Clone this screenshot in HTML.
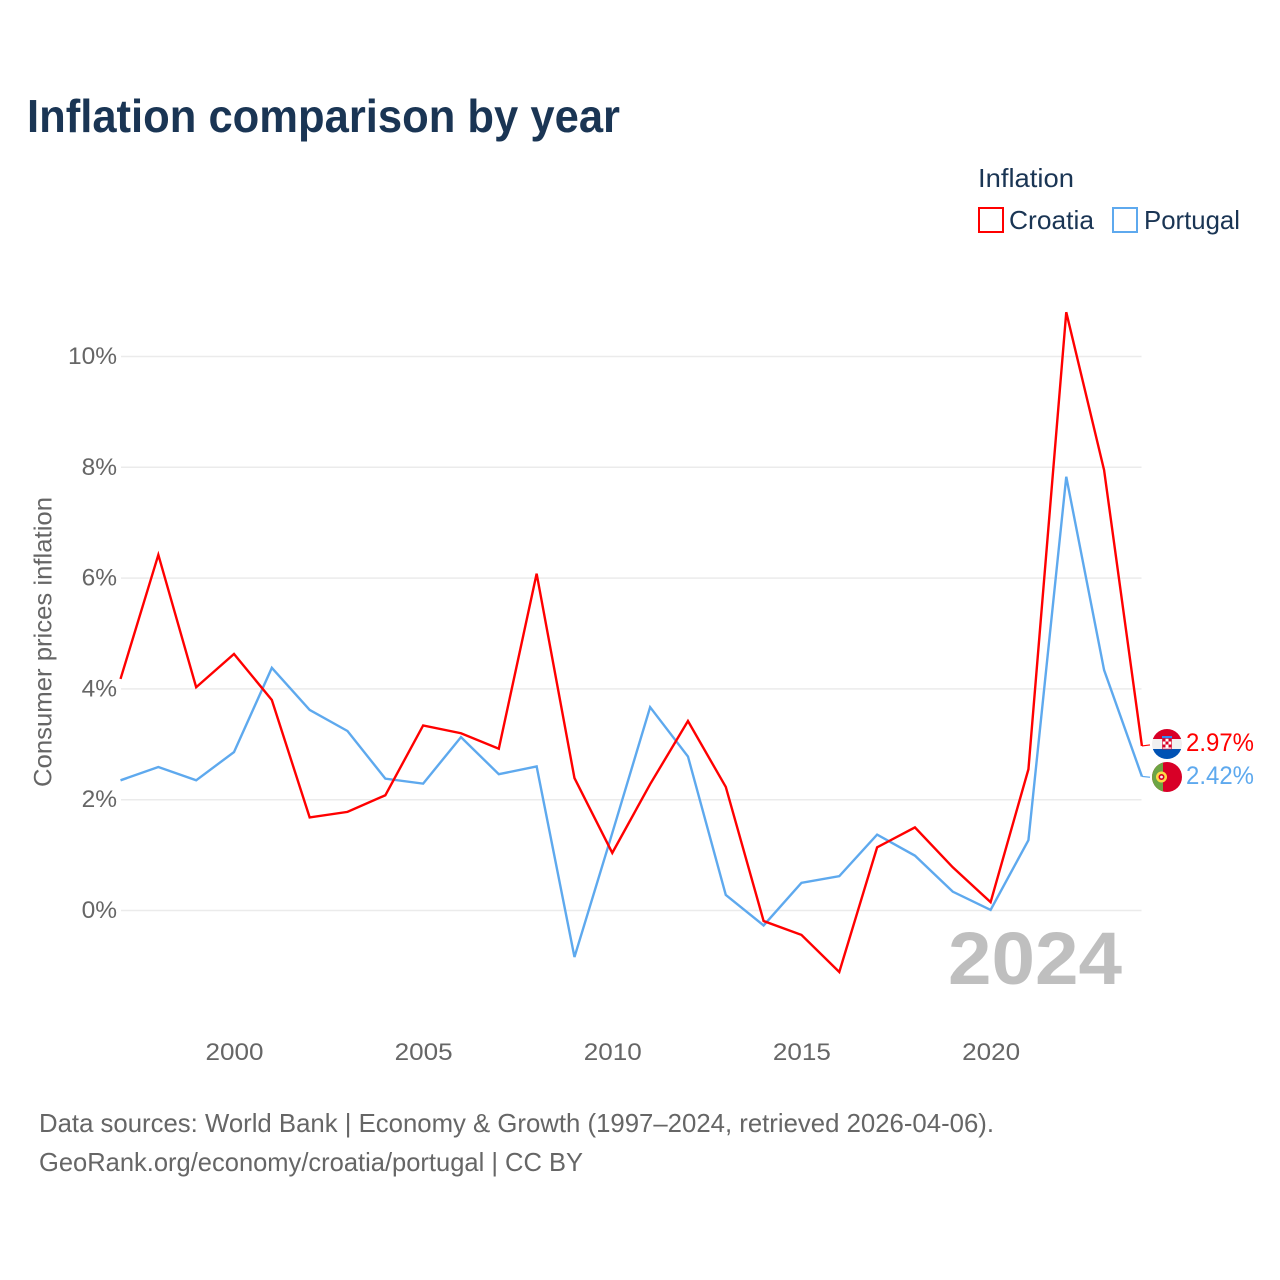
<!DOCTYPE html>
<html lang="en">
<head>
<meta charset="utf-8">
<title>Inflation comparison by year</title>
<style>
html,body{margin:0;padding:0;background:#fff;width:1280px;height:1280px;overflow:hidden}
svg{display:block}
text{font-family:"Liberation Sans",sans-serif}
</style>
</head>
<body>
<svg id="chart" xmlns="http://www.w3.org/2000/svg" width="1280" height="1280" viewBox="0 0 1280 1280">
  <defs>
    <clipPath id="flag-clip-hr"><circle cx="1167" cy="744" r="15"/></clipPath>
    <clipPath id="flag-clip-pt"><circle cx="1167" cy="777" r="15"/></clipPath>
  </defs>
  <rect width="1280" height="1280" fill="#ffffff"/>
  <text x="27" y="132" font-size="46" font-weight="700" fill="#1a3554" textLength="593" lengthAdjust="spacingAndGlyphs">Inflation comparison by year</text>

  <g>
    <text x="978" y="187" font-size="26" fill="#1a3554" textLength="96" lengthAdjust="spacingAndGlyphs">Inflation</text>
    <rect x="979" y="208" width="24" height="24" fill="none" stroke="#ff0000" stroke-width="2"/>
    <text x="1009" y="229" font-size="26" fill="#1a3554" textLength="85" lengthAdjust="spacingAndGlyphs">Croatia</text>
    <rect x="1113" y="208" width="24" height="24" fill="none" stroke="#5ea9ee" stroke-width="2"/>
    <text x="1144" y="229" font-size="26" fill="#1a3554" textLength="96" lengthAdjust="spacingAndGlyphs">Portugal</text>
  </g>

  <text transform="translate(51.5,787) rotate(-90)" font-size="25" fill="#666666" textLength="290" lengthAdjust="spacingAndGlyphs">Consumer prices inflation</text>

  <g id="grid"></g>
  <g id="y-ticks"></g>
  <g id="x-ticks"></g>

  <text x="948" y="984" font-size="74" font-weight="700" fill="#bfbfbf" textLength="174" lengthAdjust="spacingAndGlyphs">2024</text>

  <g id="series"></g>
  <g id="end-labels"></g>

  <g clip-path="url(#flag-clip-hr)">
    <rect x="1152" y="729" width="30" height="10" fill="#d80027"/>
    <rect x="1152" y="739" width="30" height="10" fill="#f0f0f0"/>
    <rect x="1152" y="749" width="30" height="10" fill="#0052b4"/>
    <rect x="1162" y="736" width="10" height="2.5" fill="#338af3"/>
    <rect x="1162.5" y="738.5" width="9" height="10.5" fill="#ffffff" stroke="#d80027" stroke-width="0.6"/>
    <rect x="1162.5" y="738.5" width="3" height="3" fill="#d80027"/>
    <rect x="1168.5" y="738.5" width="3" height="3" fill="#d80027"/>
    <rect x="1165.5" y="741.5" width="3" height="3" fill="#d80027"/>
    <rect x="1162.5" y="744.5" width="3" height="3" fill="#d80027"/>
    <rect x="1168.5" y="744.5" width="3" height="3" fill="#d80027"/>
  </g>
  <g clip-path="url(#flag-clip-pt)">
    <rect x="1152" y="762" width="30" height="30" fill="#d80027"/>
    <rect x="1152" y="762" width="11" height="30" fill="#6da544"/>
    <circle cx="1161.5" cy="777" r="5.5" fill="#ffda44"/>
    <circle cx="1161.5" cy="777" r="3" fill="#d80027"/>
    <circle cx="1161.5" cy="777" r="1.4" fill="#f0f0f0"/>
  </g>

  <text x="39" y="1132" font-size="26" fill="#666666" textLength="955" lengthAdjust="spacingAndGlyphs">Data sources: World Bank | Economy &amp; Growth (1997–2024, retrieved 2026-04-06).</text>
  <text x="39" y="1171" font-size="26" fill="#666666" textLength="544" lengthAdjust="spacingAndGlyphs">GeoRank.org/economy/croatia/portugal | CC BY</text>
</svg>
<script>
const startYear = 1997;
const croatiaValues = [4.18,6.42,4.03,4.63,3.80,1.68,1.78,2.08,3.34,3.20,2.92,6.08,2.39,1.04,2.28,3.42,2.23,-0.19,-0.44,-1.11,1.14,1.50,0.78,0.15,2.55,10.80,7.95,2.97];
const portugalValues = [2.35,2.59,2.35,2.86,4.38,3.62,3.24,2.38,2.29,3.13,2.46,2.60,-0.84,1.40,3.67,2.78,0.28,-0.27,0.50,0.62,1.37,0.99,0.34,0.01,1.27,7.83,4.34,2.42];
const yTickValues = [0,2,4,6,8,10];
const xTickYears = [2000,2005,2010,2015,2020];

const NS = 'http://www.w3.org/2000/svg';
function xScale(year){ return 234 + (year - 2000) * (990.6 - 234) / 20; }
function yScale(v){ return 910.5 - v * 55.4; }
function make(tag, attrs, parent, text){
  const el = document.createElementNS(NS, tag);
  for (const k in attrs) el.setAttribute(k, attrs[k]);
  if (text !== undefined) el.textContent = text;
  parent.appendChild(el);
  return el;
}

const gridG = document.getElementById('grid');
const yG = document.getElementById('y-ticks');
const xG = document.getElementById('x-ticks');
yTickValues.forEach(function(v){
  const line = make('line', {x1:121, x2:1141.5, y1:yScale(v), y2:yScale(v), stroke:'#ebebeb', 'stroke-width':1.5}, gridG);
  
  
  const label = make('text', {x:117, y:yScale(v)+7.5, 'text-anchor':'end', 'font-size':24.5, fill:'#666666'}, yG, v + '%');
  
  
});
xTickYears.forEach(function(y){
  const label = make('text', {x:xScale(y)+0.5, y:1060, 'text-anchor':'middle', 'font-size':24.5, fill:'#666666', textLength:58, lengthAdjust:'spacingAndGlyphs'}, xG, String(y));
  
  
});

const seriesG = document.getElementById('series');
function pathFor(values){
  return values.map(function(v,i){ return (i ? 'L' : 'M') + xScale(startYear + i).toFixed(2) + ' ' + yScale(v).toFixed(2); }).join(' ');
}
const portugalLine = make('path', {d:pathFor(portugalValues), fill:'none', stroke:'#5ea9ee', 'stroke-width':2.4, 'stroke-linejoin':'miter'}, seriesG);


const croatiaLine = make('path', {d:pathFor(croatiaValues), fill:'none', stroke:'#ff0000', 'stroke-width':2.4, 'stroke-linejoin':'miter'}, seriesG);



const endG = document.getElementById('end-labels');
const lastX = xScale(startYear + croatiaValues.length - 1);
const lastCroatia = croatiaValues[croatiaValues.length - 1];
const lastPortugal = portugalValues[portugalValues.length - 1];
const croatiaLeader = make('line', {x1:lastX, x2:1150, y1:yScale(lastCroatia), y2:yScale(lastCroatia)-1, stroke:'#ff0000', 'stroke-width':1.2}, endG);


const portugalLeader = make('line', {x1:lastX, x2:1150, y1:yScale(lastPortugal), y2:yScale(lastPortugal)+0.8, stroke:'#5ea9ee', 'stroke-width':1.2}, endG);


const croatiaEnd = make('text', {x:1186, y:751, 'font-size':25, fill:'#ff0000', textLength:68, lengthAdjust:'spacingAndGlyphs'}, endG, lastCroatia.toFixed(2) + '%');


const portugalEnd = make('text', {x:1186, y:784, 'font-size':25, fill:'#5ea9ee', textLength:68, lengthAdjust:'spacingAndGlyphs'}, endG, lastPortugal.toFixed(2) + '%');


</script>
</body>
</html>
